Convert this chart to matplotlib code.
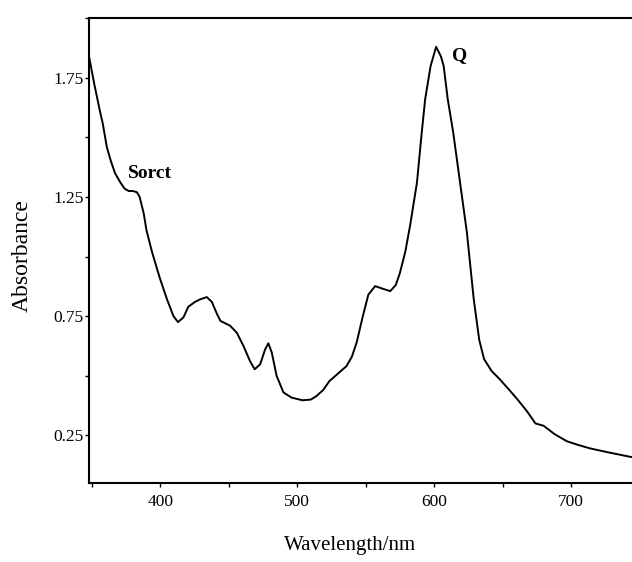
import numpy as np
import matplotlib
matplotlib.use("Agg")
from matplotlib import pyplot as plt
from matplotlib.ticker import MultipleLocator

plt.rcParams['font.family'] = ['Liberation Serif', 'DejaVu Serif']

## spectrum ##
wavelength = [348, 352, 356, 358, 361, 364, 367, 371, 374, 377, 380, 383, 385,
              388, 390, 394, 397.6, 400, 405, 409.7, 413, 417, 420.6, 425.5,
              429, 434, 437.7, 441.4, 444, 447.5, 451, 456, 460.8, 465.7, 469,
              473, 476.6, 479, 481.5, 485, 490, 496, 504, 510, 514, 519, 523.5,
              530, 536, 540, 543.5, 548, 552, 557, 562, 568, 572, 575, 579,
              582.5, 587.5, 591, 593.5, 597.5, 601.5, 605, 607, 610, 614, 619,
              624, 629, 633, 636.5, 642, 648, 655, 661, 668, 674, 680, 688,
              697, 705, 714, 726, 743, 750]
absorbance = [1.84, 1.72, 1.61, 1.56, 1.46, 1.40, 1.35, 1.31, 1.285, 1.275,
              1.275, 1.27, 1.25, 1.18, 1.11, 1.02, 0.95, 0.905, 0.82, 0.75,
              0.725, 0.745, 0.79, 0.81, 0.82, 0.83, 0.81, 0.76, 0.73, 0.72,
              0.71, 0.68, 0.625, 0.56, 0.527, 0.548, 0.61, 0.636, 0.597, 0.50,
              0.43, 0.408, 0.397, 0.40, 0.414, 0.44, 0.477, 0.51, 0.54, 0.58,
              0.64, 0.75, 0.84, 0.876, 0.866, 0.855, 0.88, 0.93, 1.02, 1.13,
              1.31, 1.52, 1.66, 1.80, 1.88, 1.84, 1.80, 1.66, 1.52, 1.31, 1.10,
              0.82, 0.65, 0.57, 0.52, 0.485, 0.44, 0.40, 0.35, 0.30, 0.29,
              0.255, 0.225, 0.21, 0.195, 0.18, 0.16, 0.155]

xticks = [400, 500, 600, 700]
yticks = [0.25, 0.75, 1.25, 1.75]

fig = plt.figure(figsize=(6.32, 5.62), dpi=100)
# right edge of the frame runs off the picture, like the scan
ax = fig.add_axes([0.1408, 0.1406, 0.871, 0.827])

ax.plot(wavelength, absorbance, color='k', lw=1.4, solid_joinstyle='round')

ax.set_xlim(348, 750)
ax.set_ylim(0.05, 2.0)
ax.set_xticks(xticks)
ax.set_yticks(yticks)
ax.set_yticklabels(['0.25', '0.75', '1.25', '1.75'])
ax.xaxis.set_minor_locator(MultipleLocator(50))
ax.yaxis.set_minor_locator(MultipleLocator(0.25))
ax.tick_params(which='both', direction='out', length=3, width=1, labelsize=12.5)
ax.tick_params(axis='x', pad=5)
ax.tick_params(axis='y', pad=1)
for s in ax.spines.values():
    s.set_linewidth(1.5)

ax.text(376.5, 1.35, 'Sorct', fontsize=14, fontweight='bold', va='center', ha='left')
ax.text(613, 1.845, 'Q', fontsize=14, fontweight='bold', va='center', ha='left')

ax.set_xlabel('Wavelength/nm', fontsize=15)
ax.xaxis.set_label_coords(0.474, -0.115)
ax.set_ylabel('Absorbance', fontsize=17)
ax.yaxis.set_label_coords(-0.102, 0.49)

fig.savefig('out.png', dpi=100)
